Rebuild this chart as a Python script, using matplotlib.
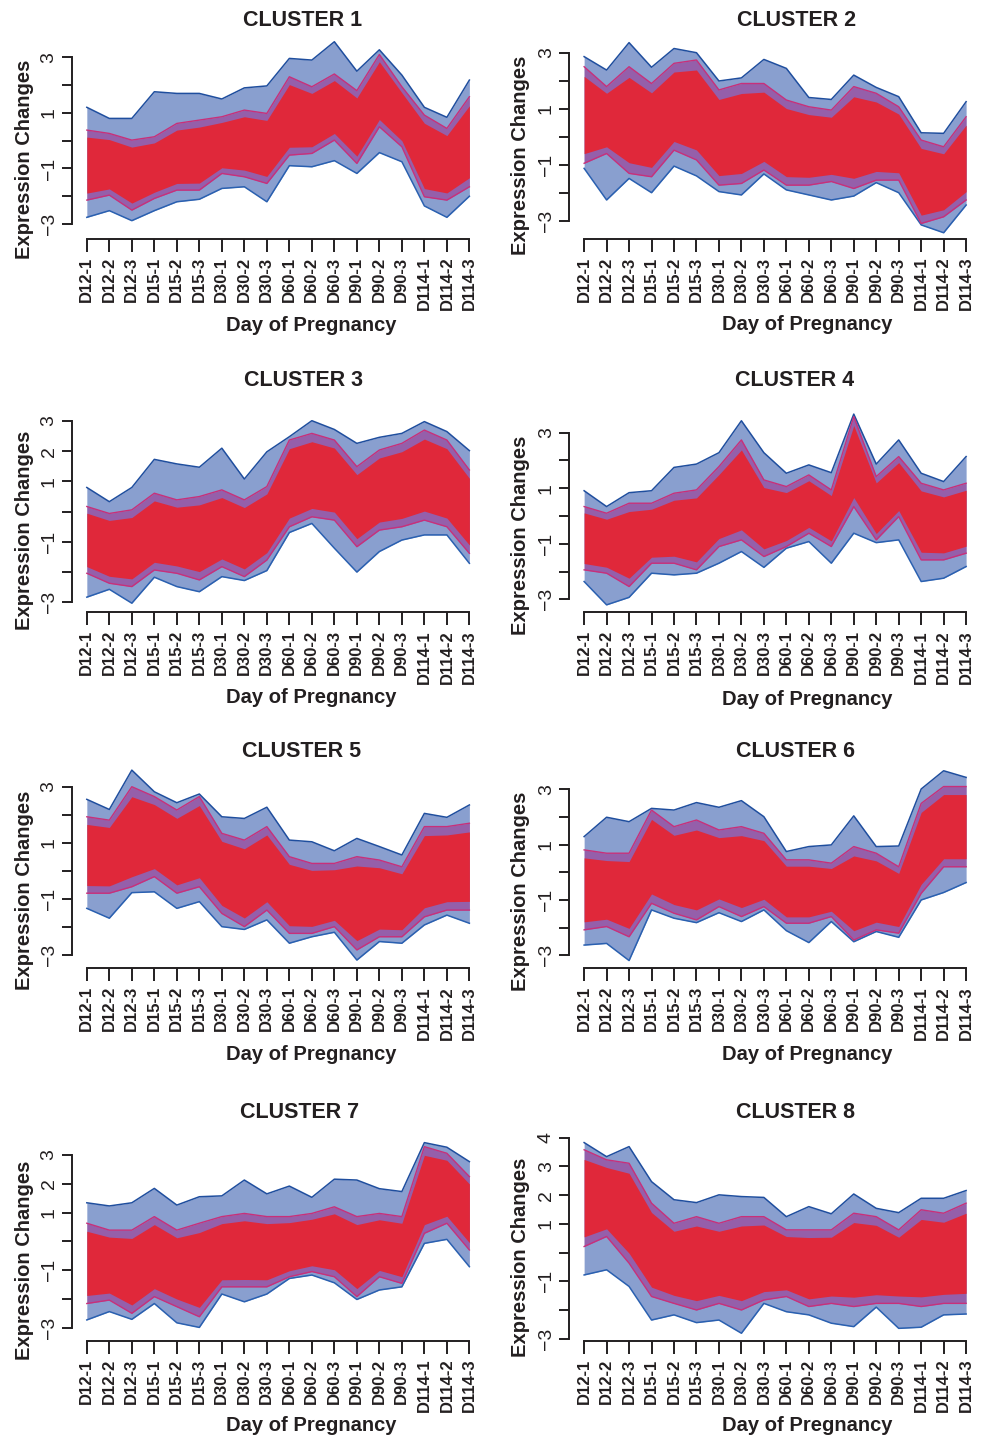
import numpy as np
import matplotlib
matplotlib.use("Agg")
import matplotlib.pyplot as plt
from matplotlib.ticker import FixedLocator, FixedFormatter

plt.rcParams['font.family'] = ['Liberation Sans', 'DejaVu Sans']

samples = ["D12-1", "D12-2", "D12-3", "D15-1", "D15-2", "D15-3",
           "D30-1", "D30-2", "D30-3", "D60-1", "D60-2", "D60-3",
           "D90-1", "D90-2", "D90-3", "D114-1", "D114-2", "D114-3"]

# outer envelope (max / min of all member genes) and dense red core
c1_max = [1.2, 0.8, 0.8, 1.76, 1.7, 1.7, 1.5, 1.9, 1.97, 2.96, 2.9, 3.56, 2.5, 3.27, 2.36, 1.2, 0.84, 2.18]
c1_min = [-2.76, -2.52, -2.88, -2.52, -2.2, -2.11, -1.72, -1.66, -2.2, -0.9, -0.94, -0.72, -1.18, -0.43, -0.76, -2.35, -2.76, -2.0]
c1_hi = [0.38, 0.26, 0.02, 0.14, 0.62, 0.74, 0.86, 1.1, 0.98, 2.3, 1.94, 2.4, 1.8, 3.1, 1.94, 0.92, 0.44, 1.58]
c1_lo = [-2.14, -1.96, -2.5, -2.08, -1.78, -1.78, -1.18, -1.3, -1.54, -0.52, -0.46, 0.02, -0.82, 0.5, -0.22, -2.02, -2.14, -1.66]

c2_max = [2.86, 2.38, 3.36, 2.48, 3.15, 3.0, 1.99, 2.1, 2.76, 2.44, 1.4, 1.33, 2.2, 1.76, 1.43, 0.14, 0.12, 1.25]
c2_min = [-1.13, -2.26, -1.49, -2.0, -1.05, -1.4, -1.96, -2.08, -1.33, -1.9, -2.08, -2.26, -2.12, -1.64, -2.0, -3.15, -3.43, -2.44]
c2_hi = [2.5, 1.79, 2.5, 1.9, 2.62, 2.74, 1.67, 1.9, 1.9, 1.31, 1.07, 0.95, 1.79, 1.55, 1.07, -0.12, -0.36, 0.71]
c2_lo = [-0.95, -0.6, -1.31, -1.43, -0.48, -0.83, -1.73, -1.67, -1.19, -1.73, -1.73, -1.6, -1.85, -1.55, -1.55, -3.1, -2.86, -2.26]

c3_max = [0.8, 0.33, 0.8, 1.73, 1.58, 1.47, 2.1, 1.08, 1.98, 2.48, 3.01, 2.72, 2.26, 2.46, 2.59, 2.98, 2.65, 2.02]
c3_min = [-2.83, -2.57, -3.03, -2.17, -2.48, -2.65, -2.15, -2.28, -1.95, -0.69, -0.39, -1.21, -2.0, -1.32, -0.94, -0.77, -0.77, -1.71]
c3_hi = [0.17, -0.06, 0.06, 0.61, 0.39, 0.5, 0.72, 0.39, 0.83, 2.37, 2.59, 2.37, 1.49, 2.04, 2.26, 2.7, 2.37, 1.38]
c3_lo = [-2.04, -2.37, -2.48, -1.93, -2.04, -2.26, -1.82, -2.15, -1.6, -0.5, -0.17, -0.28, -1.16, -0.61, -0.5, -0.28, -0.5, -1.38]

c4_max = [0.91, 0.34, 0.84, 0.91, 1.75, 1.87, 2.28, 3.43, 2.28, 1.54, 1.84, 1.56, 3.67, 1.87, 2.74, 1.54, 1.24, 2.14]
c4_min = [-2.36, -3.2, -2.93, -2.06, -2.12, -2.06, -1.7, -1.28, -1.85, -1.16, -0.92, -1.7, -0.62, -0.96, -0.86, -2.36, -2.24, -1.82]
c4_hi = [0.34, 0.1, 0.46, 0.46, 0.82, 0.94, 1.78, 2.74, 1.3, 1.06, 1.48, 0.94, 3.58, 1.42, 2.14, 1.18, 0.94, 1.18]
c4_lo = [-1.94, -2.06, -2.54, -1.7, -1.7, -1.94, -1.1, -0.86, -1.46, -1.1, -0.62, -1.1, 0.34, -0.86, -0.02, -1.58, -1.58, -1.34]

c5_max = [2.55, 2.19, 3.59, 2.82, 2.43, 2.74, 1.93, 1.87, 2.27, 1.1, 1.04, 0.72, 1.16, 0.87, 0.57, 2.05, 1.91, 2.35]
c5_min = [-1.33, -1.68, -0.77, -0.74, -1.33, -1.09, -1.98, -2.08, -1.74, -2.57, -2.34, -2.18, -3.17, -2.51, -2.57, -1.92, -1.57, -1.86]
c5_hi = [1.93, 1.81, 3.0, 2.65, 2.17, 2.65, 1.34, 1.1, 1.58, 0.51, 0.27, 0.27, 0.51, 0.39, 0.15, 1.58, 1.58, 1.7]
c5_lo = [-0.79, -0.79, -0.56, -0.2, -0.79, -0.56, -1.51, -1.98, -1.39, -2.22, -2.22, -1.98, -2.81, -2.34, -2.34, -1.63, -1.39, -1.39]

c6_max = [1.29, 1.99, 1.83, 2.31, 2.25, 2.52, 2.35, 2.59, 2.01, 0.75, 0.93, 0.99, 2.04, 0.93, 0.95, 3.01, 3.67, 3.43]
c6_min = [-2.63, -2.57, -3.19, -1.36, -1.66, -1.82, -1.46, -1.78, -1.36, -2.11, -2.54, -1.78, -2.51, -2.14, -2.35, -1.0, -0.73, -0.37]
c6_hi = [0.81, 0.69, 0.69, 2.25, 1.65, 1.89, 1.53, 1.65, 1.41, 0.45, 0.45, 0.33, 0.93, 0.69, 0.2, 2.49, 3.1, 3.1]
c6_lo = [-2.08, -1.96, -2.33, -1.12, -1.48, -1.72, -1.24, -1.6, -1.24, -1.84, -1.84, -1.6, -2.45, -2.08, -2.2, -0.76, 0.2, 0.2]

c7_max = [1.34, 1.23, 1.34, 1.84, 1.26, 1.55, 1.58, 2.13, 1.65, 1.92, 1.53, 2.16, 2.13, 1.83, 1.73, 3.43, 3.27, 2.77]
c7_min = [-2.73, -2.44, -2.71, -2.16, -2.83, -2.99, -1.83, -2.1, -1.83, -1.29, -1.17, -1.44, -2.02, -1.69, -1.58, -0.07, 0.07, -0.88]
c7_hi = [0.63, 0.39, 0.39, 0.86, 0.39, 0.63, 0.86, 0.97, 0.86, 0.86, 0.97, 1.2, 0.86, 0.97, 0.86, 3.29, 3.06, 2.25]
c7_lo = [-2.16, -2.04, -2.5, -1.92, -2.27, -2.62, -1.58, -1.58, -1.58, -1.23, -1.05, -1.23, -1.92, -1.23, -1.46, 0.28, 0.63, -0.3]

c8_max = [3.83, 3.34, 3.69, 2.47, 1.84, 1.74, 2.01, 1.95, 1.92, 1.25, 1.6, 1.35, 2.04, 1.54, 1.39, 1.89, 1.89, 2.16]
c8_min = [-0.78, -0.6, -1.18, -2.35, -2.17, -2.44, -2.35, -2.81, -1.77, -2.06, -2.17, -2.46, -2.58, -1.9, -2.64, -2.6, -2.17, -2.14]
c8_hi = [3.58, 3.23, 3.11, 1.72, 1.02, 1.25, 1.02, 1.25, 1.25, 0.79, 0.79, 0.79, 1.37, 1.25, 0.79, 1.49, 1.37, 1.72]
c8_lo = [0.21, 0.56, -0.37, -1.53, -1.77, -2.0, -1.77, -2.0, -1.65, -1.53, -1.88, -1.77, -1.88, -1.77, -1.77, -1.88, -1.77, -1.77]

cluster_names = ["CLUSTER 1", "CLUSTER 2", "CLUSTER 3", "CLUSTER 4",
                 "CLUSTER 5", "CLUSTER 6", "CLUSTER 7", "CLUSTER 8"]
envelopes = [(c1_max, c1_min, c1_hi, c1_lo), (c2_max, c2_min, c2_hi, c2_lo),
             (c3_max, c3_min, c3_hi, c3_lo), (c4_max, c4_min, c4_hi, c4_lo),
             (c5_max, c5_min, c5_hi, c5_lo), (c6_max, c6_min, c6_hi, c6_lo),
             (c7_max, c7_min, c7_hi, c7_lo), (c8_max, c8_min, c8_hi, c8_lo)]
ytick_vals = [[-3, -2, -1, 0, 1, 2, 3]] * 7 + [[-3, -2, -1, 0, 1, 2, 3, 4]]
ytick_shown = [[3, 1, -1, -3], [3, 1, -1, -3], [3, 2, 1, -1, -3], [3, 1, -1, -3],
               [3, 1, -1, -3], [3, 1, -1, -3], [3, 2, 1, -1, -3], [4, 3, 2, 1, -1, -3]]

# ---- layout (pixels of the 1005x1435 canvas) ----
W, H = 1005, 1435
col_x = [(87.7, 492.3), (585.0, 989.0)]          # x of first / last sample
row_bottom = [238.5, 612.0, 968.0, 1340.5]         # x-axis line
row_top = [30, 398, 760, 1128]
# (value a, px a, value b, px b) for y mapping
ymap = [(3, 57.3, -3, 224.0), (3, 52.7, -3, 220.7),
        (3, 421.0, -3, 602.3), (3, 432.7, -3, 599.3),
        (3, 786.7, -3, 955.3), (3, 789.3, -3, 955.3),
        (3, 1155.0, -3, 1327.7), (4, 1137.7, -3, 1338.7)]
title_xy = [(303, 20), (797, 20), (303, 381), (795, 381),
            (302, 751), (795, 751), (300, 1112), (795, 1112)]
xlab_base = [331, 330, 703, 705, 1060, 1060, 1431, 1431]
xlab_x = [311, 807]
ylab_x = [25, 521]


def fmt(v):
    return str(v).replace('-', '\u2212')


fig = plt.figure(figsize=(W / 100, H / 100), dpi=100)
x = np.arange(1, 19)

for i in range(8):
    r, c = divmod(i, 2)
    x1, x18 = col_x[c]
    s = (x18 - x1) / 17
    left = x1 - 0.68 * s
    width = 17.36 * s
    bot, top = row_bottom[r], row_top[r]
    ax = fig.add_axes([left / W, 1 - bot / H, width / W, (bot - top) / H])

    va, pa, vb, pb = ymap[i]
    u = (pb - pa) / (va - vb)
    ylo = va + (pa - bot) / u
    yhi = va + (pa - top) / u

    vmax, vmin, vhi, vlo = [np.array(a) for a in envelopes[i]]
    ax.fill_between(x, vmin, vmax, color='#3a5fb0', alpha=0.6, lw=0, clip_on=False)
    ax.fill_between(x, vlo, vhi, color='#9a4a9e', alpha=0.75, lw=0, clip_on=False)
    ax.plot(x, vmax, color='#1f4e9e', lw=1.1, clip_on=False)
    ax.plot(x, vmin, color='#2a60b0', lw=1.1, clip_on=False)
    core_hi = vhi - 0.1 * (vhi - vlo)
    core_lo = vlo + 0.1 * (vhi - vlo)
    ax.fill_between(x, core_lo, core_hi, color='#e0283a', lw=0, clip_on=False)
    ax.plot(x, vhi, color='#c8307a', lw=1.0, clip_on=False)
    ax.plot(x, vlo, color='#c8307a', lw=1.0, clip_on=False)

    ax.set_xlim(0.32, 18.68)
    ax.set_ylim(ylo, yhi)
    for sp in ['top', 'right']:
        ax.spines[sp].set_visible(False)
    ax.spines['left'].set_bounds(min(ytick_vals[i]), max(ytick_vals[i]))
    ax.spines['bottom'].set_bounds(1, 18)
    for sp in ['left', 'bottom']:
        ax.spines[sp].set_linewidth(1.4)
        ax.spines[sp].set_color('#231f20')

    ax.set_xticks(x)
    ax.set_xticklabels(samples, rotation=90, fontsize=12, fontweight='bold')
    ax.yaxis.set_major_locator(FixedLocator(ytick_vals[i]))
    ax.yaxis.set_major_formatter(FixedFormatter(
        [(fmt(v) if v in ytick_shown[i] else '') for v in ytick_vals[i]]))
    for lab in ax.get_yticklabels():
        lab.set_rotation(90)
        lab.set_va('center')
    ax.tick_params(axis='x', length=9, width=1.4, pad=4, colors='#231f20')
    ax.tick_params(axis='y', length=7, width=1.4, pad=3, labelsize=14, colors='#231f20')

    tx, ty = title_xy[i]
    fig.text(tx / W, 1 - ty / H, cluster_names[i], ha='center', va='center',
             fontsize=15.5, fontweight='bold', color='#231f20')
    fig.text(xlab_x[c] / W, 1 - xlab_base[i] / H, "Day of Pregnancy", ha='center',
             va='baseline', fontsize=14.5, fontweight='bold', color='#231f20')
    ymid = (pa + pb) / 2 + 19
    fig.text(ylab_x[c] / W, 1 - ymid / H, "Expression Changes", ha='center', va='center',
             rotation=90, fontsize=14.5, fontweight='bold', color='#231f20')

fig.savefig("out.png", dpi=100)
